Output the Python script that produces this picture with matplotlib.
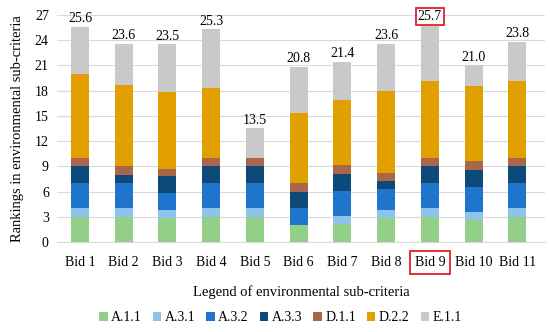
import numpy as np
import matplotlib.pyplot as plt

plt.rcParams['font.family'] = ['Liberation Serif', 'DejaVu Serif']

bids = ["Bid 1", "Bid 2", "Bid 3", "Bid 4", "Bid 5", "Bid 6",
        "Bid 7", "Bid 8", "Bid 9", "Bid 10", "Bid 11"]
series = ["A.1.1", "A.3.1", "A.3.2", "A.3.3", "D.1.1", "D.2.2", "E.1.1"]

# segment heights per sub-criterion
a11 = [3.0, 3.0, 2.8, 3.0, 3.0, 2.0, 2.1, 2.8, 3.0, 2.6, 3.0]
a31 = [1.0, 1.0, 1.0, 1.0, 1.0, 0.0, 1.0, 1.0, 1.0, 1.0, 1.0]
a32 = [3.0, 3.0, 2.0, 3.0, 3.0, 2.0, 3.0, 2.5, 3.0, 3.0, 3.0]
a33 = [2.0, 1.0, 2.0, 2.0, 2.0, 2.0, 2.0, 0.9, 2.0, 2.0, 2.0]
d11 = [1.0, 1.0, 0.9, 1.0, 1.0, 1.0, 1.0, 1.0, 1.0, 1.0, 1.0]
d22 = [10.0, 9.7, 9.1, 8.3, 0.0, 8.3, 7.8, 9.7, 9.2, 9.0, 9.2]
e11 = [5.6, 4.9, 5.7, 7.0, 3.5, 5.5, 4.5, 5.7, 6.5, 2.4, 4.6]
totals = [25.6, 23.6, 23.5, 25.3, 13.5, 20.8, 21.4, 23.6, 25.7, 21.0, 23.8]

colors = ["#93cf88", "#8cc4ea", "#1f74cc", "#0d4a7a", "#a8674a", "#e19f00", "#c9c9c9"]

fig = plt.figure(figsize=(5.5, 3.32), dpi=100)
ax = fig.add_axes([0.104, 0.271, 0.886, 0.684])

x = np.arange(len(bids))
bottom = np.zeros(len(bids))
for name, vals, c in zip(series, [a11, a31, a32, a33, d11, d22, e11], colors):
    ax.bar(x, vals, 0.41, bottom=bottom, color=c, label=name, zorder=2)
    bottom += np.array(vals)

for i, t in enumerate(totals):
    if i == 8:
        ax.text(x[i], bottom[i] + 0.35, f"{t:.1f}", ha='center', va='bottom', fontsize=10,
                bbox=dict(boxstyle='square,pad=0.15', fc='white', ec='#e0202a', lw=1.3))
    else:
        ax.text(x[i], bottom[i] + 0.2, f"{t:.1f}", ha='center', va='bottom', fontsize=10)

ax.set_ylim(0, 27)
ax.set_yticks(np.arange(0, 28, 3))
ax.set_xlim(-0.52, 10.62)
ax.set_xticks(x)
ax.set_xticklabels(bids)
ax.grid(axis='y', color='#d9d9d9', lw=0.8, zorder=0)
for s in ['top', 'right', 'left']:
    ax.spines[s].set_visible(False)
ax.spines['bottom'].set_color('#d9d9d9')
ax.tick_params(axis='both', length=0, labelsize=10, pad=6)
ax.tick_params(axis='x', pad=10)
lbl = ax.get_xticklabels()[8]
lbl.set_bbox(dict(boxstyle='square,pad=0.35', fc='white', ec='#e0202a', lw=1.3))

ax.set_ylabel("Rankings in environmental sub-criteria", fontsize=10.5, labelpad=8)
ax.set_xlabel("Legend of environmental sub-criteria", fontsize=10.5, labelpad=12)

fig.legend(loc='lower center', bbox_to_anchor=(0.51, -0.015), ncol=7, frameon=False,
           fontsize=10, handlelength=0.6, handleheight=0.6, handletextpad=0.25,
           columnspacing=0.8)

fig.savefig("out.png", dpi=100)
